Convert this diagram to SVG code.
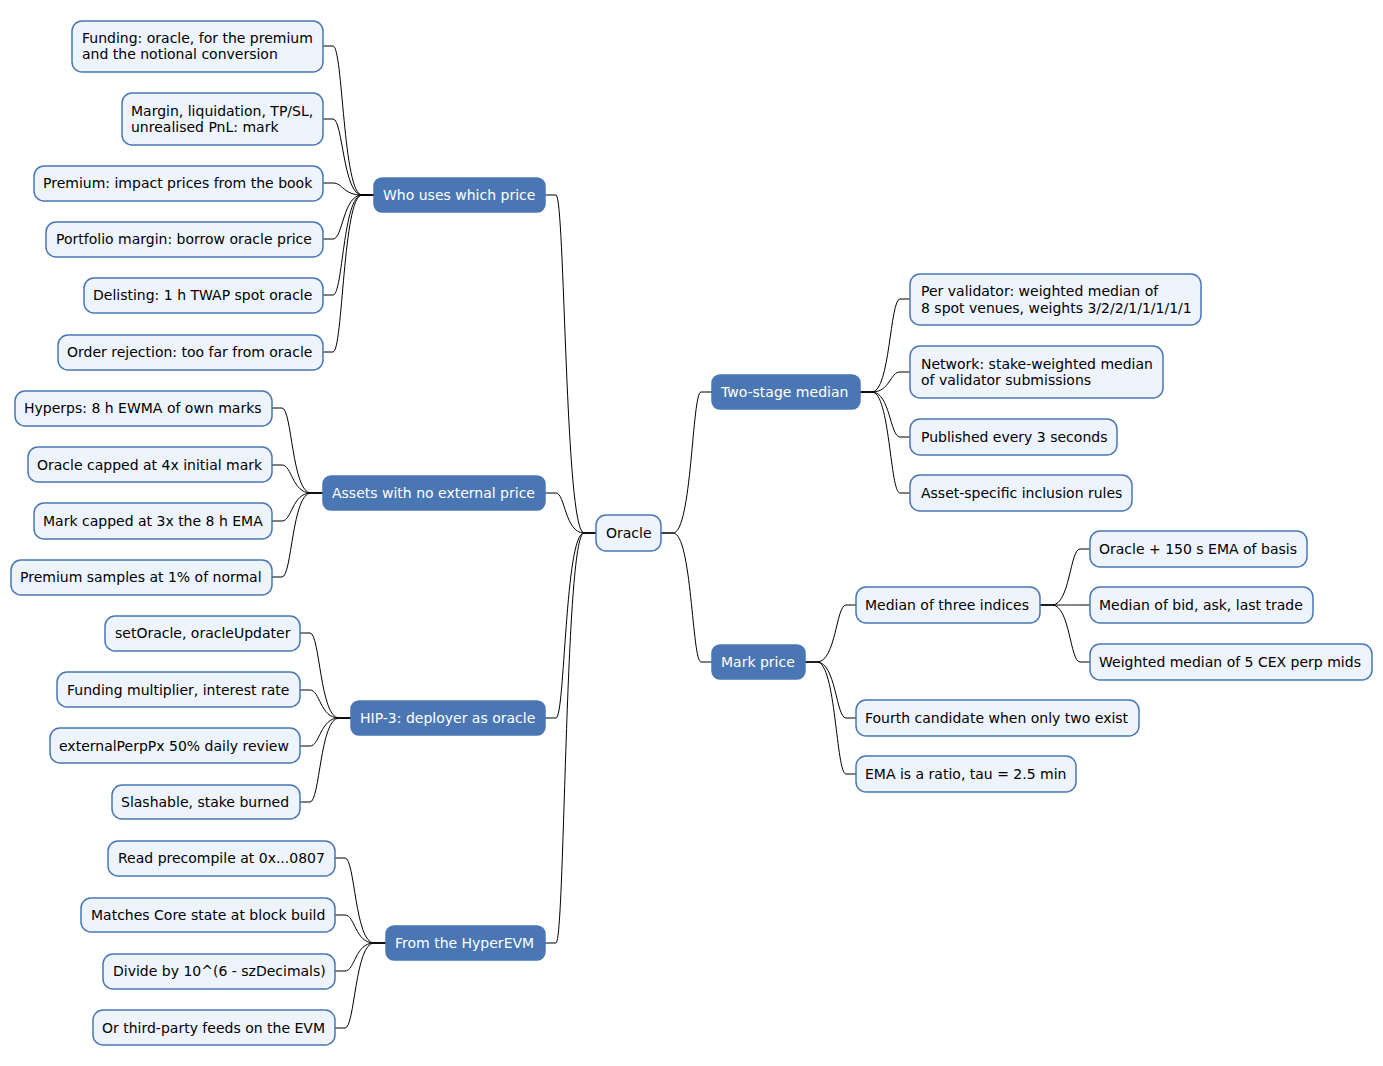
<svg xmlns="http://www.w3.org/2000/svg" width="1383" height="1066" viewBox="0 0 1383 1066">
<style>
.n rect{fill:#EEF4FD;stroke:#4A77B4;stroke-width:1.5}
.c rect{fill:#4A77B4;stroke:#4A77B4;stroke-width:1.5}
text{font-family:"DejaVu Sans",sans-serif;font-size:14px;fill:#000}
.c text{fill:#fff}
#edges path{fill:none;stroke:#000;stroke-width:1}
</style>
<rect width="1383" height="1066" fill="#fff"/>
<g id="edges">
<path d="M661,533 H673 C692,533 692,392 701,392 H712"/>
<path d="M661,533 H673 C692,533 692,662 701,662 H712"/>
<path d="M860,392 H872 C890,392 890,299 900,299 H910"/>
<path d="M860,392 H872 C890,392 890,372 900,372 H910"/>
<path d="M860,392 H872 C890,392 890,437 900,437 H910"/>
<path d="M860,392 H872 C890,392 890,493 900,493 H910"/>
<path d="M805,662 H817 C836,662 836,605 846,605 H856"/>
<path d="M805,662 H817 C836,662 836,718 846,718 H856"/>
<path d="M805,662 H817 C836,662 836,774 846,774 H856"/>
<path d="M1040,605 H1052 C1070,605 1070,549 1080,549 H1090"/>
<path d="M1040,605 H1052 C1070,605 1070,605 1080,605 H1090"/>
<path d="M1040,605 H1052 C1070,605 1070,662 1080,662 H1090"/>
<path d="M596,533 H584 C565,533 565,195 556,195 H545"/>
<path d="M596,533 H584 C565,533 565,493 556,493 H545"/>
<path d="M596,533 H584 C565,533 565,718 556,718 H545"/>
<path d="M596,533 H584 C565,533 565,943 556,943 H545"/>
<path d="M374,195 H362 C343,195 343,46 333,46 H323"/>
<path d="M374,195 H362 C343,195 343,119 333,119 H323"/>
<path d="M374,195 H362 C343,195 343,183 333,183 H323"/>
<path d="M374,195 H362 C343,195 343,239 333,239 H323"/>
<path d="M374,195 H362 C343,195 343,295 333,295 H323"/>
<path d="M374,195 H362 C343,195 343,352 333,352 H323"/>
<path d="M323,493 H311 C292,493 292,408 282,408 H272"/>
<path d="M323,493 H311 C292,493 292,465 282,465 H272"/>
<path d="M323,493 H311 C292,493 292,521 282,521 H272"/>
<path d="M323,493 H311 C292,493 292,577 282,577 H272"/>
<path d="M351,718 H339 C320,718 320,633 310,633 H300"/>
<path d="M351,718 H339 C320,718 320,690 310,690 H300"/>
<path d="M351,718 H339 C320,718 320,746 310,746 H300"/>
<path d="M351,718 H339 C320,718 320,802 310,802 H300"/>
<path d="M386,943 H374 C355,943 355,858 345,858 H335"/>
<path d="M386,943 H374 C355,943 355,915 345,915 H335"/>
<path d="M386,943 H374 C355,943 355,971 345,971 H335"/>
<path d="M386,943 H374 C355,943 355,1028 345,1028 H335"/>
</g>
<g id="root" class="n"><rect x="596" y="515" width="65" height="36" rx="10"/><text x="606" y="538">Oracle</text></g>
<g id="twostage" class="c"><rect x="712" y="375" width="148" height="34" rx="8"/><text x="721" y="397">Two-stage median</text></g>
<g id="ts1" class="n"><rect x="910" y="274" width="291" height="51" rx="10"/><text x="921" y="296">Per validator: weighted median of</text><text x="921" y="313">8 spot venues, weights 3/2/2/1/1/1/1/1</text></g>
<g id="ts2" class="n"><rect x="910" y="346" width="253" height="52" rx="10"/><text x="921" y="369">Network: stake-weighted median</text><text x="921" y="385">of validator submissions</text></g>
<g id="ts3" class="n"><rect x="910" y="419" width="207" height="36" rx="10"/><text x="921" y="442">Published every 3 seconds</text></g>
<g id="ts4" class="n"><rect x="910" y="475" width="222" height="36" rx="10"/><text x="921" y="498">Asset-specific inclusion rules</text></g>
<g id="mark" class="c"><rect x="712" y="645" width="93" height="34" rx="8"/><text x="721" y="667">Mark price</text></g>
<g id="mk1" class="n"><rect x="856" y="587" width="184" height="36" rx="10"/><text x="865" y="610">Median of three indices</text></g>
<g id="mk1a" class="n"><rect x="1090" y="531" width="217" height="36" rx="10"/><text x="1099" y="554">Oracle + 150 s EMA of basis</text></g>
<g id="mk1b" class="n"><rect x="1090" y="587" width="223" height="36" rx="10"/><text x="1099" y="610">Median of bid, ask, last trade</text></g>
<g id="mk1c" class="n"><rect x="1090" y="644" width="282" height="36" rx="10"/><text x="1099" y="667">Weighted median of 5 CEX perp mids</text></g>
<g id="mk2" class="n"><rect x="856" y="700" width="283" height="36" rx="10"/><text x="865" y="723">Fourth candidate when only two exist</text></g>
<g id="mk3" class="n"><rect x="856" y="756" width="220" height="36" rx="10"/><text x="865" y="779">EMA is a ratio, tau = 2.5 min</text></g>
<g id="who" class="c"><rect x="374" y="178" width="171" height="34" rx="8"/><text x="383" y="200">Who uses which price</text></g>
<g id="w1" class="n"><rect x="72" y="21" width="251" height="51" rx="10"/><text x="82" y="43">Funding: oracle, for the premium</text><text x="82" y="59">and the notional conversion</text></g>
<g id="w2" class="n"><rect x="122" y="93" width="201" height="52" rx="10"/><text x="131" y="116">Margin, liquidation, TP/SL,</text><text x="131" y="132">unrealised PnL: mark</text></g>
<g id="w3" class="n"><rect x="34" y="166" width="289" height="35" rx="10"/><text x="43" y="188">Premium: impact prices from the book</text></g>
<g id="w4" class="n"><rect x="46" y="222" width="277" height="35" rx="10"/><text x="56" y="244">Portfolio margin: borrow oracle price</text></g>
<g id="w5" class="n"><rect x="84" y="278" width="239" height="35" rx="10"/><text x="93" y="300">Delisting: 1 h TWAP spot oracle</text></g>
<g id="w6" class="n"><rect x="58" y="335" width="265" height="35" rx="10"/><text x="67" y="357">Order rejection: too far from oracle</text></g>
<g id="assets" class="c"><rect x="323" y="476" width="222" height="34" rx="8"/><text x="332" y="498">Assets with no external price</text></g>
<g id="a1" class="n"><rect x="15" y="391" width="257" height="35" rx="10"/><text x="24" y="413">Hyperps: 8 h EWMA of own marks</text></g>
<g id="a2" class="n"><rect x="28" y="447" width="244" height="35" rx="10"/><text x="37" y="470">Oracle capped at 4x initial mark</text></g>
<g id="a3" class="n"><rect x="34" y="503" width="238" height="36" rx="10"/><text x="43" y="526">Mark capped at 3x the 8 h EMA</text></g>
<g id="a4" class="n"><rect x="11" y="560" width="261" height="35" rx="10"/><text x="20" y="582">Premium samples at 1% of normal</text></g>
<g id="hip3" class="c"><rect x="351" y="701" width="194" height="34" rx="8"/><text x="360" y="723">HIP-3: deployer as oracle</text></g>
<g id="h1" class="n"><rect x="105" y="616" width="195" height="35" rx="10"/><text x="115" y="638">setOracle, oracleUpdater</text></g>
<g id="h2" class="n"><rect x="57" y="672" width="243" height="35" rx="10"/><text x="67" y="695">Funding multiplier, interest rate</text></g>
<g id="h3" class="n"><rect x="50" y="728" width="250" height="35" rx="10"/><text x="59" y="751">externalPerpPx 50% daily review</text></g>
<g id="h4" class="n"><rect x="112" y="785" width="188" height="34" rx="10"/><text x="121" y="807">Slashable, stake burned</text></g>
<g id="evm" class="c"><rect x="386" y="926" width="159" height="34" rx="8"/><text x="395" y="948">From the HyperEVM</text></g>
<g id="e1" class="n"><rect x="108" y="841" width="227" height="35" rx="10"/><text x="118" y="863">Read precompile at 0x...0807</text></g>
<g id="e2" class="n"><rect x="81" y="898" width="254" height="34" rx="10"/><text x="91" y="920">Matches Core state at block build</text></g>
<g id="e3" class="n"><rect x="103" y="954" width="232" height="35" rx="10"/><text x="113" y="976">Divide by 10^(6 - szDecimals)</text></g>
<g id="e4" class="n"><rect x="93" y="1010" width="242" height="35" rx="10"/><text x="102" y="1033">Or third-party feeds on the EVM</text></g>
</svg>
